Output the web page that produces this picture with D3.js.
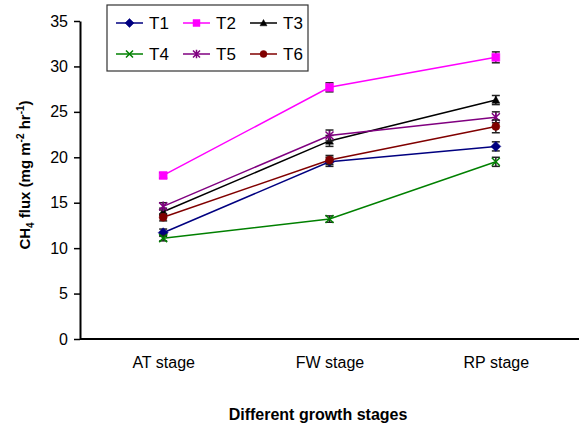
<!DOCTYPE html>
<html>
<head>
<meta charset="utf-8">
<script src="https://cdn.jsdelivr.net/npm/d3@7"></script>
<style>
  body { margin: 0; background: #fff; }
  svg { font-family: 'Liberation Sans', Arial, sans-serif; }
  .axis path, .axis line { stroke: #000; }
  .axis text { font-size: 16px; fill: #000; }
</style>
</head>
<body>
<div id="chart"></div>
<script>
var stages = ['AT stage', 'FW stage', 'RP stage'];
var yTicks = [0, 5, 10, 15, 20, 25, 30, 35];

var seriesNames = ['T1', 'T2', 'T3', 'T4', 'T5', 'T6'];
var t1 = [11.7, 19.5, 21.2];
var t2 = [18.0, 27.7, 31.0];
var t3 = [14.0, 21.8, 26.3];
var t4 = [11.1, 13.2, 19.5];
var t5 = [14.6, 22.4, 24.4];
var t6 = [13.4, 19.7, 23.4];

var t1Err = [0.4, 0.5, 0.5];
var t2Err = [0.3, 0.5, 0.6];
var t3Err = [0.4, 0.6, 0.5];
var t4Err = [0.3, 0.35, 0.5];
var t5Err = [0.4, 0.6, 0.6];
var t6Err = [0.4, 0.5, 0.7];

var colors = ['#000080', '#ff00ff', '#000000', '#008000', '#800080', '#800000'];
var shapes = ['diamond', 'square', 'triangle', 'cross', 'star', 'circle'];

var series = [t1, t2, t3, t4, t5, t6].map(function(vals, i) {
  var errs = [t1Err, t2Err, t3Err, t4Err, t5Err, t6Err][i];
  return {
    name: seriesNames[i],
    color: colors[i],
    shape: shapes[i],
    values: vals.map(function(v, j) { return {stage: stages[j], value: v, err: errs[j]}; })
  };
});

var margin = {top: 21, right: 0, bottom: 86, left: 80};
var width = 579 - margin.left - margin.right;
var height = 425 - margin.top - margin.bottom;

var x = d3.scalePoint().domain(stages).range([0, width]).padding(0.5);
var y = d3.scaleLinear().domain([0, 35]).range([height, 0]);

var svg = d3.select('#chart').append('svg')
  .attr('width', 579)
  .attr('height', 425)
  .append('g')
  .attr('transform', 'translate(' + margin.left + ',' + margin.top + ')');

var yAxis = d3.axisLeft(y).tickValues(yTicks).tickSize(6).tickSizeOuter(0).tickPadding(6);
var xAxis = d3.axisBottom(x).tickSize(0).tickPadding(18);

svg.append('g')
  .attr('class', 'x axis')
  .attr('transform', 'translate(0,' + height + ')')
  .call(xAxis)
  .call(function(g) { g.select('.domain').attr('stroke-width', 2).attr('d', 'M0,0H' + width); });

svg.append('g')
  .attr('class', 'y axis')
  .call(yAxis)
  .call(function(g) {
    g.select('.domain').attr('stroke-width', 2);
    g.selectAll('.tick line').attr('stroke-width', 1.5);
  });

// marker paths, r = half size in px
function markerPath(shape, r) {
  if (shape === 'diamond') return 'M0,' + -r + 'L' + r + ',0L0,' + r + 'L' + -r + ',0Z';
  if (shape === 'square') return 'M' + -r + ',' + -r + 'H' + r + 'V' + r + 'H' + -r + 'Z';
  if (shape === 'triangle') return 'M0,' + -r + 'L' + r + ',' + (r * 0.8) + 'H' + -r + 'Z';
  if (shape === 'cross') return 'M' + -r + ',' + -r + 'L' + r + ',' + r + 'M' + r + ',' + -r + 'L' + -r + ',' + r;
  if (shape === 'star') return 'M' + -r + ',' + -r + 'L' + r + ',' + r + 'M' + r + ',' + -r + 'L' + -r + ',' + r + 'M0,' + -r * 1.2 + 'V' + r * 1.2;
  return d3.symbol().type(d3.symbolCircle).size(Math.PI * r * r)();
}

function drawMarker(g, s, r) {
  var p = g.append('path').attr('d', markerPath(s.shape, r));
  if (s.shape === 'cross' || s.shape === 'star') {
    p.attr('fill', 'none').attr('stroke', s.color).attr('stroke-width', 1.5);
  } else {
    p.attr('fill', s.color).attr('stroke', s.color).attr('stroke-width', 0.5);
  }
}

var line = d3.line()
  .x(function(d) { return x(d.stage); })
  .y(function(d) { return y(d.value); });

series.forEach(function(s) {
  var g = svg.append('g').attr('class', 'series');

  g.append('path')
    .datum(s.values)
    .attr('fill', 'none')
    .attr('stroke', s.color)
    .attr('stroke-width', 1.5)
    .attr('d', line);

  s.values.forEach(function(d) {
    var cx = x(d.stage);
    var eb = g.append('g').attr('stroke', '#222').attr('stroke-width', 1.5);
    eb.append('line').attr('x1', cx).attr('x2', cx).attr('y1', y(d.value - d.err)).attr('y2', y(d.value + d.err));
    eb.append('line').attr('x1', cx - 4).attr('x2', cx + 4).attr('y1', y(d.value - d.err)).attr('y2', y(d.value - d.err));
    eb.append('line').attr('x1', cx - 4).attr('x2', cx + 4).attr('y1', y(d.value + d.err)).attr('y2', y(d.value + d.err));
  });

  s.values.forEach(function(d) {
    var m = g.append('g').attr('transform', 'translate(' + x(d.stage) + ',' + y(d.value) + ')');
    drawMarker(m, s, s.shape === 'diamond' ? 5 : 4);
  });
});

// legend
var legend = svg.append('g').attr('transform', 'translate(' + (107 - margin.left) + ',' + (5 - margin.top) + ')');
legend.append('rect')
  .attr('width', 201)
  .attr('height', 66)
  .attr('fill', '#fff')
  .attr('stroke', '#333')
  .attr('stroke-width', 1.2);

var legendCols = [9, 76, 143];
var legendRows = [18, 49];

series.forEach(function(s, i) {
  var lx = legendCols[i % 3];
  var ly = legendRows[Math.floor(i / 3)];
  var item = legend.append('g').attr('transform', 'translate(' + lx + ',' + ly + ')');
  item.append('line').attr('x1', 0).attr('x2', 27).attr('stroke', s.color).attr('stroke-width', 1.5);
  var m = item.append('g').attr('transform', 'translate(13.5,0)');
  drawMarker(m, s, s.shape === 'diamond' ? 4.5 : 3.5);
  item.append('text')
    .attr('x', 33)
    .attr('y', 6)
    .attr('font-size', 17)
    .text(s.name);
});

// axis titles
svg.append('text')
  .attr('x', 318 - margin.left)
  .attr('y', 420 - margin.top)
  .attr('text-anchor', 'middle')
  .attr('font-size', 16)
  .attr('font-weight', 'bold')
  .text('Different growth stages');

var yTitle = svg.append('text')
  .attr('transform', 'translate(' + (30 - margin.left) + ',' + (175 - margin.top) + ') rotate(-90)')
  .attr('text-anchor', 'middle')
  .attr('font-size', 15)
  .attr('font-weight', 'bold');
yTitle.append('tspan').text('CH');
yTitle.append('tspan').attr('font-size', 10).attr('dy', 4).text('4');
yTitle.append('tspan').attr('dy', -4).text(' flux (mg m');
yTitle.append('tspan').attr('font-size', 10).attr('dy', -6).text('-2');
yTitle.append('tspan').attr('dy', 6).text(' hr');
yTitle.append('tspan').attr('font-size', 10).attr('dy', -6).text('-1');
yTitle.append('tspan').attr('dy', 6).text(')');
</script>
</body>
</html>
